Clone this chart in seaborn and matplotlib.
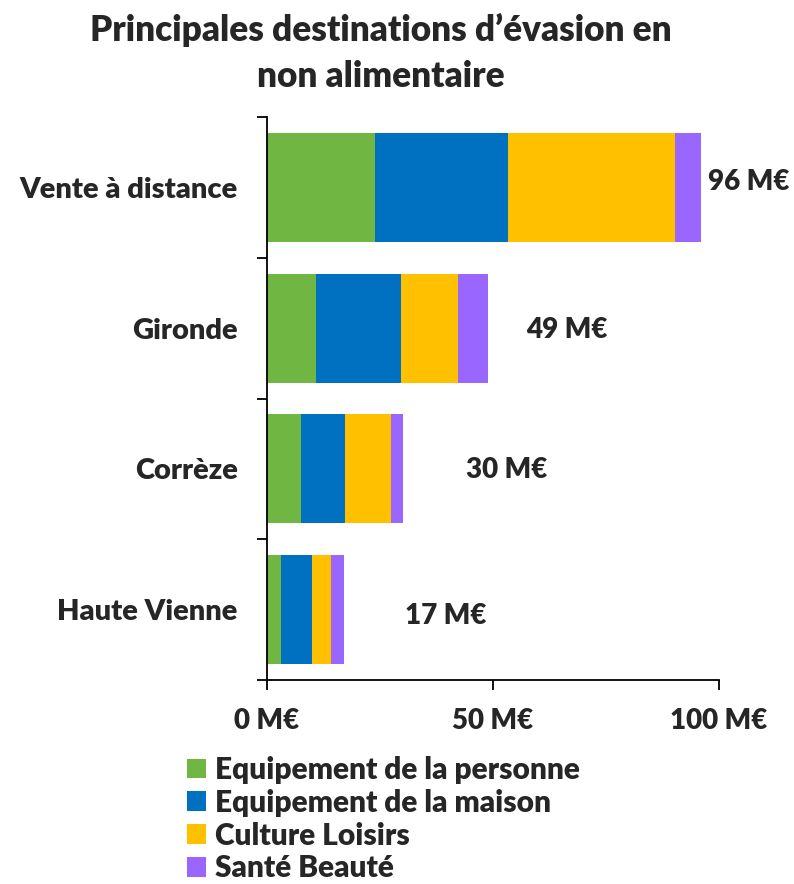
import numpy as np
import pandas as pd
import matplotlib
matplotlib.use('Agg')
import matplotlib.pyplot as plt
import seaborn as sns
from matplotlib.patches import Patch

# Data (M€)
destinations = ['Vente à distance', 'Gironde', 'Corrèze', 'Haute Vienne']
segments = ['Equipement de la personne', 'Equipement de la maison', 'Culture Loisirs', 'Santé Beauté']
equip_personne = [23.9, 10.8, 7.5, 3.1]
equip_maison = [29.4, 18.8, 9.8, 6.9]
culture_loisirs = [37.0, 12.7, 10.1, 4.2]
sante_beaute = [5.7, 6.7, 2.6, 2.8]
totals_label = ['96 M€', '49 M€', '30 M€', '17 M€']
xticks = [0, 50, 100]
xtick_labels = ['0 M€', '50 M€', '100 M€']

colors = ['#70B642', '#0070C0', '#FFC000', '#9966FF']
W = 'heavy'

sns.set_style('white')
plt.rcParams['font.family'] = ['Lato', 'DejaVu Sans']
plt.rcParams['font.weight'] = W

df = pd.DataFrame({'dest': destinations,
                   segments[0]: equip_personne,
                   segments[1]: equip_maison,
                   segments[2]: culture_loisirs,
                   segments[3]: sante_beaute})
cum = df[segments].cumsum(axis=1)

fig = plt.figure(figsize=(7.94, 8.84), dpi=100)
ax = fig.add_axes([267/794, 1-680/884, (719-267)/794, (680-117)/884])

# stacked bars: draw the longest cumulative first, shorter ones on top
for seg, col in reversed(list(zip(segments, colors))):
    sns.barplot(x=cum[seg], y=df['dest'], orient='h', color=col, saturation=1,
                width=0.775, linewidth=0, ax=ax)

ax.set_xlim(0, 100)
ax.set_ylim(3.5, -0.5)
ax.set_xlabel('')
ax.set_ylabel('')

for s in ['top', 'right']:
    ax.spines[s].set_visible(False)
for s in ['left', 'bottom']:
    ax.spines[s].set_linewidth(1.3)
    ax.spines[s].set_color('black')

ax.set_xticks(xticks)
ax.set_xticklabels(xtick_labels, fontsize=20, fontweight=W)
ax.tick_params(axis='x', direction='out', length=7, width=1.3, color='black', pad=13, bottom=True)

ax.set_yticks(range(len(destinations)))
ax.set_yticklabels(destinations, fontsize=21, fontweight=W)
ax.tick_params(axis='y', which='major', length=0, pad=21, left=True)
ax.set_yticks(np.arange(-0.5, len(destinations)), minor=True)
ax.tick_params(axis='y', which='minor', direction='out', length=7, width=1.3, color='black', left=True)

# total labels (manually placed, like in the original)
label_x = [106.6, 66.4, 53.1, 39.6]
label_dy = [-0.04, 0.01, 0.01, 0.045]
for i, txt in enumerate(totals_label):
    ax.text(label_x[i], i + label_dy[i], txt, ha='center', va='center',
            fontsize=20, fontweight=W, clip_on=False)

fig.text(0.48, 1-53/884, 'Principales destinations d’évasion en\nnon alimentaire',
         ha='center', va='center', multialignment='center',
         fontsize=25.3, fontweight=W, linespacing=1.5)

handles = [Patch(facecolor=c, edgecolor='none') for c in colors]
fig.legend(handles, segments, loc='upper left', bbox_to_anchor=(187/794, 1-756/884),
           frameon=False, handlelength=0.65, handleheight=0.65,
           handletextpad=0.3, labelspacing=0.16, borderpad=0, borderaxespad=0,
           prop={'weight': W, 'size': 21.5})

fig.savefig('out.png', dpi=100)
